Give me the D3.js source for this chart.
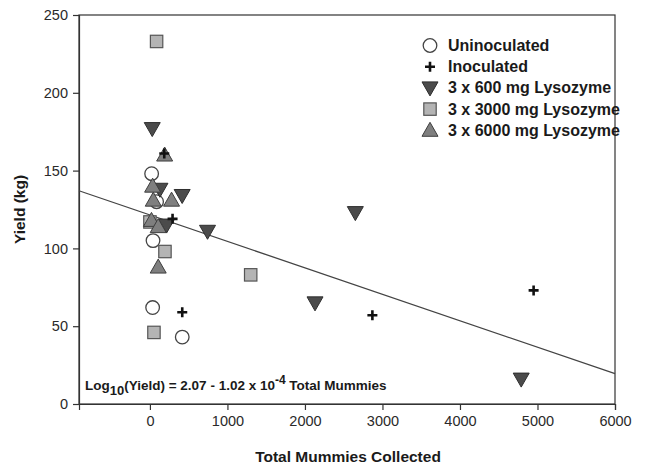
<!DOCTYPE html>
<html>
<head>
<meta charset="utf-8">
<script src="https://cdn.jsdelivr.net/npm/d3@7/dist/d3.min.js"></script>
<style>
  html, body { margin: 0; padding: 0; background: #fff; }
  svg text { font-family: "Liberation Sans", Arial, Helvetica, sans-serif; }
</style>
</head>
<body>
<svg id="chart" width="650" height="469"></svg>
<script>
// Yield versus total mummies collected, by treatment
const uninoculated = [[22, 148], [86, 130], [40, 105], [35, 62], [417, 43]];
const inoculated   = [[185, 161], [292, 119], [417, 59], [2870, 57], [4950, 73]];
const lyso600      = [[30, 177], [129, 138], [416, 134], [215, 115], [743, 111], [2130, 65], [2650, 123], [4790, 16]];
const lyso3000     = [[86, 233], [0, 117], [194, 98], [1300, 83], [52, 46]];
const lyso6000     = [[190, 160], [35, 140], [43, 131], [279, 131], [20, 118], [107, 114], [107, 88]];

const xTicks = [0, 1000, 2000, 3000, 4000, 5000, 6000];
const yTicks = [0, 50, 100, 150, 200, 250];

// fitted trend line (intercept, slope)
const fitIntercept = 121.5;
const fitSlope = -0.0170;

const legendLabels = ["Uninoculated", "Inoculated", "3 x 600 mg Lysozyme", "3 x 3000 mg Lysozyme", "3 x 6000 mg Lysozyme"];

const svg = d3.select("#chart");
const m = { left: 79, top: 15, right: 615, bottom: 404 };

const x = d3.scaleLinear().domain([-915, 6000]).range([m.left, m.right]);
const y = d3.scaleLinear().domain([0, 250]).range([m.bottom, m.top]);

// frame
svg.append("rect")
  .attr("x", m.left).attr("y", m.top)
  .attr("width", m.right - m.left).attr("height", m.bottom - m.top)
  .attr("fill", "none").attr("stroke", "#333").attr("stroke-width", 1.2);

// axes
const xAxis = svg.append("g")
  .attr("transform", `translate(0,${m.bottom})`)
  .call(d3.axisBottom(x).tickValues(xTicks).tickSize(6).tickPadding(6).tickFormat(d3.format("d")));
const yAxis = svg.append("g")
  .attr("transform", `translate(${m.left},0)`)
  .call(d3.axisLeft(y).tickValues(yTicks).tickSize(6).tickPadding(5).tickFormat(d3.format("d")));
[xAxis, yAxis].forEach(g => {
  g.select(".domain").attr("stroke", "#333").attr("stroke-width", 1.2);
  g.selectAll(".tick line").attr("stroke", "#333").attr("stroke-width", 1.2);
  g.selectAll(".tick text").attr("fill", "#2a2a2a").style("font-size", "14.5px");
});

// axis titles
svg.append("text")
  .attr("x", (m.left + m.right) / 2 + 1).attr("y", 462)
  .attr("text-anchor", "middle")
  .style("font-size", "15.5px").style("font-weight", "bold").attr("fill", "#1a1a1a")
  .text("Total Mummies Collected");
svg.append("text")
  .attr("transform", `translate(25,${(m.top + m.bottom) / 2}) rotate(-90)`)
  .attr("text-anchor", "middle")
  .style("font-size", "15.5px").style("font-weight", "bold").attr("fill", "#1a1a1a")
  .text("Yield (kg)");

// trend line
const xd = x.domain();
svg.append("line")
  .attr("x1", x(xd[0])).attr("y1", y(fitIntercept + fitSlope * xd[0]))
  .attr("x2", x(xd[1])).attr("y2", y(fitIntercept + fitSlope * xd[1]))
  .attr("stroke", "#444").attr("stroke-width", 1.3);

// marker painters
function drawCircle(g, cx, cy) {
  g.append("circle").attr("cx", cx).attr("cy", cy).attr("r", 6.8)
    .attr("fill", "#fff").attr("stroke", "#444").attr("stroke-width", 1.3);
}
function drawCross(g, cx, cy) {
  g.append("path")
    .attr("d", `M${cx - 5},${cy}H${cx + 5}M${cx},${cy - 5}V${cy + 5}`)
    .attr("stroke", "#111").attr("stroke-width", 2.6);
}
function drawDown(g, cx, cy) {
  g.append("path")
    .attr("d", `M${cx - 8},${cy - 6}L${cx + 8},${cy - 6}L${cx},${cy + 8}Z`)
    .attr("fill", "#4b4b4b").attr("stroke", "#2e2e2e").attr("stroke-width", 1);
}
function drawSquare(g, cx, cy) {
  g.append("rect").attr("x", cx - 6.2).attr("y", cy - 6.2).attr("width", 12.4).attr("height", 12.4)
    .attr("fill", "#b4b4b4").attr("stroke", "#555").attr("stroke-width", 1.2);
}
function drawUp(g, cx, cy) {
  g.append("path")
    .attr("d", `M${cx - 8},${cy + 6}L${cx + 8},${cy + 6}L${cx},${cy - 8}Z`)
    .attr("fill", "#7f7f7f").attr("stroke", "#3e3e3e").attr("stroke-width", 1);
}

const marks = svg.append("g");
const series = [
  { data: uninoculated, draw: drawCircle },
  { data: lyso3000, draw: drawSquare },
  { data: lyso600, draw: drawDown },
  { data: lyso6000, draw: drawUp },
  { data: inoculated, draw: drawCross }
];
series.forEach(s => s.data.forEach(d => s.draw(marks, x(d[0]), y(d[1]))));

// legend
const legendDraw = [drawCircle, drawCross, drawDown, drawSquare, drawUp];
const lg = svg.append("g");
legendLabels.forEach((lab, i) => {
  const ly = 45.5 + i * 21.2;
  legendDraw[i](lg, 430, ly);
  lg.append("text").attr("x", 448).attr("y", ly + 5.5)
    .style("font-size", "16px").style("font-weight", "bold").attr("fill", "#1a1a1a")
    .text(lab);
});

// regression equation
const eq = svg.append("text").attr("x", 85).attr("y", 390)
  .style("font-size", "13.5px").style("font-weight", "bold").attr("fill", "#1a1a1a");
eq.append("tspan").text("Log");
eq.append("tspan").attr("dy", 5).style("font-size", "13px").text("10");
eq.append("tspan").attr("dy", -5).text("(Yield) = 2.07 - 1.02 x 10");
eq.append("tspan").attr("dy", -6).style("font-size", "12px").text("-4");
eq.append("tspan").attr("dy", 6).text(" Total Mummies");
</script>
</body>
</html>
